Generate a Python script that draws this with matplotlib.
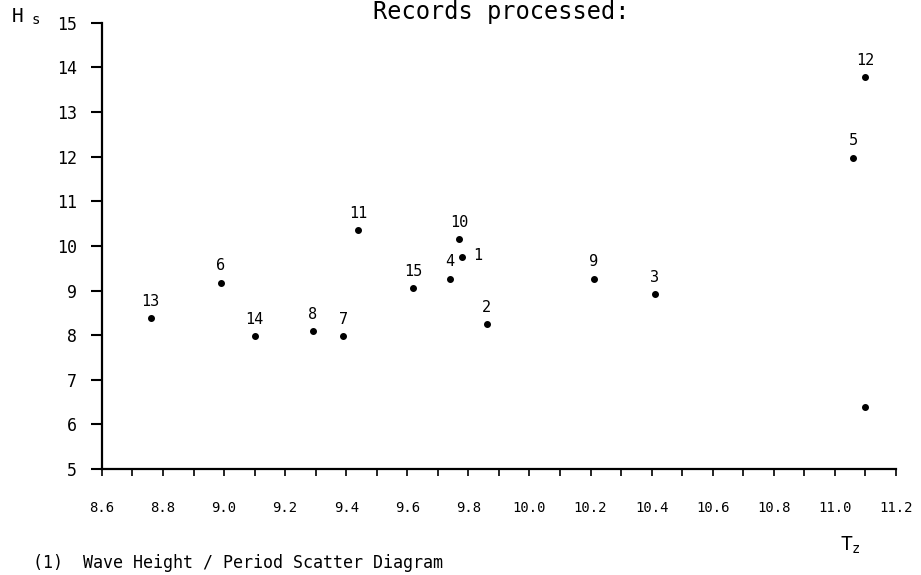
import numpy as np
import matplotlib.pyplot as plt

# record number, zero-crossing period Tz (s), significant wave height Hs (m)
records = ["13", "6", "14", "8", "7", "11", "15", "4", "10", "1", "2", "9", "3", "5", "12", ""]
tz = [8.76, 8.99, 9.10, 9.29, 9.39, 9.44, 9.62, 9.74, 9.77, 9.78, 9.86, 10.21, 10.41, 11.06, 11.10, 11.10]
hs = [8.39, 9.18, 7.98, 8.09, 7.98, 10.35, 9.06, 9.27, 10.15, 9.76, 8.25, 9.27, 8.93, 11.98, 13.78, 6.38]

x_major = np.round(np.arange(8.6, 11.21, 0.2), 1)
x_minor = np.round(np.arange(8.6, 11.21, 0.1), 1)
y_major = np.arange(5, 16, 1)

MONO = "DejaVu Sans Mono"


def make_plot():
    fig = plt.figure(figsize=(9.21, 5.75), dpi=100)
    ax = fig.add_axes([0.1107, 0.1843, 0.862, 0.776])

    ax.plot(tz, hs, "o", color="black", markersize=4, linestyle="none")

    # record numbers sit above the dots, except no. 1 which is to the right
    for name, x, y in zip(records, tz, hs):
        if not name:
            continue
        off = (8, 1) if name == "1" else (0, 12)
        ha = "left" if name == "1" else "center"
        ax.annotate(name, (x, y), xytext=off, textcoords="offset points",
                    ha=ha, va="center", fontsize=11, family=MONO)

    ax.set_xlim(8.6, 11.2)
    ax.set_ylim(5, 15)

    ax.set_xticks(x_major)
    ax.set_xticks(x_minor, minor=True)
    ax.set_xticklabels([f"{v:.1f}" for v in x_major], family=MONO, fontsize=10)
    ax.set_yticks(y_major)
    ax.set_yticklabels([str(v) for v in y_major], family=MONO, fontsize=12)

    ax.tick_params(axis="x", which="both", direction="out", length=5, width=1.2, pad=18)
    ax.tick_params(axis="y", direction="out", length=8, width=1.5, pad=10)

    for side in ["top", "right"]:
        ax.spines[side].set_visible(False)
    for side in ["left", "bottom"]:
        ax.spines[side].set_linewidth(1.6)

    # axis names and captions, placed in figure pixels like the plotter sheet
    W, H = 921, 575
    fig.text(12 / W, 1 - 22 / H, "H", family=MONO, fontsize=14, va="baseline")
    fig.text(32 / W, 1 - 24 / H, "s", family=MONO, fontsize=10, va="baseline")
    fig.text(840 / W, 1 - 550 / H, "T", family=MONO, fontsize=14, va="baseline")
    fig.text(852 / W, 1 - 553 / H, "z", family=MONO, fontsize=10, va="baseline")
    fig.text(373 / W, 1 - 19 / H, "Records processed:", family=MONO, fontsize=17, va="baseline")
    fig.text(33 / W, 1 - 568 / H, "(1)  Wave Height / Period Scatter Diagram",
             family=MONO, fontsize=12, va="baseline")

    fig.savefig("out.png", dpi=100)


if __name__ == "__main__":
    make_plot()
